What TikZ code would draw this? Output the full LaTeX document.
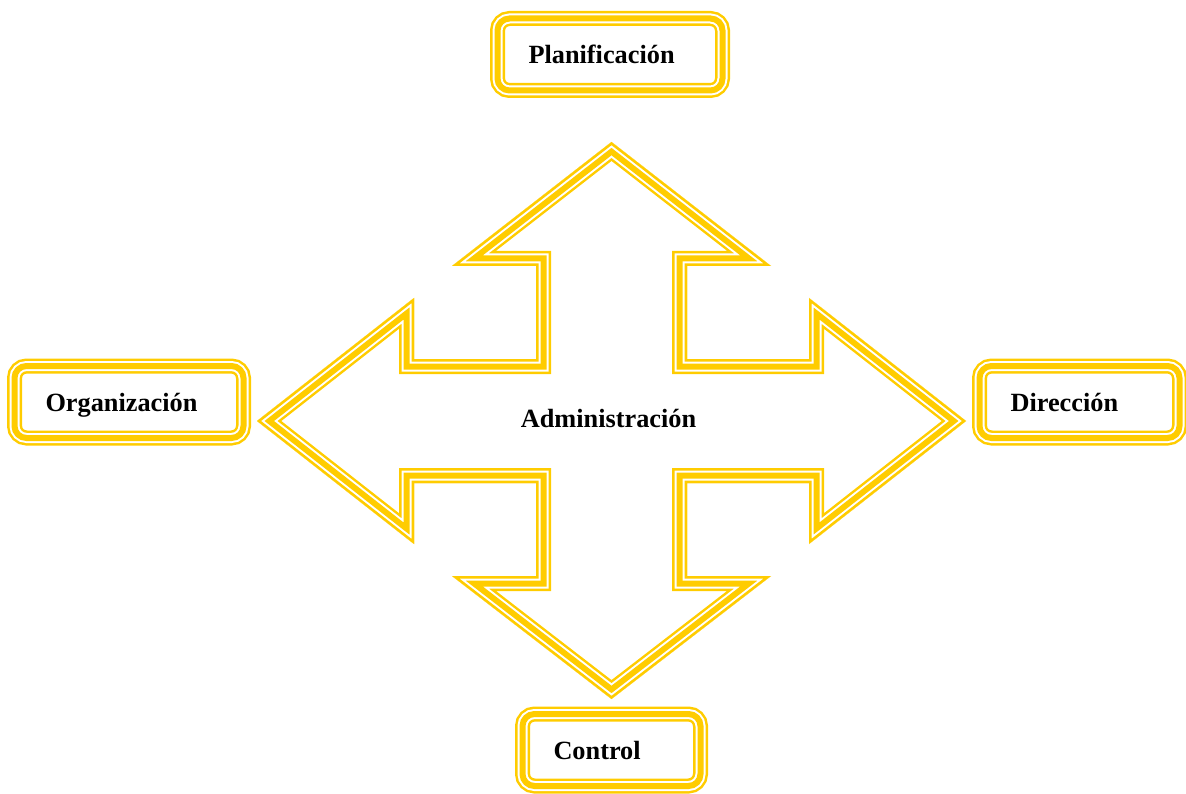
\documentclass[tikz,border=0pt]{standalone}
\usepackage{fontspec}
\setmainfont{Liberation Serif}
\definecolor{gold}{RGB}{255,204,0}

% outline of the four-way arrow (outer edge of the triple border)
\def\crossoutline{(611.5,142) -- (771,266) -- (687,266) -- (687,359) -- (809,359) -- (809,298)
  -- (966,421) -- (809,544) -- (809,483) -- (687,483) -- (687,576) -- (771,576)
  -- (611.5,699) -- (452,576) -- (536,576) -- (536,483) -- (414,483) -- (414,544)
  -- (257,421) -- (414,298) -- (414,359) -- (536,359) -- (536,266) -- (452,266) -- cycle}

\begin{document}
\begin{tikzpicture}[x=1pt,y=-1pt,
  word/.style={font=\bfseries\fontsize{26.3}{30}\selectfont},
  stage/.style={word, rounded corners=12, minimum height=72, inner xsep=31, inner ysep=0,
    align=left, text height=18, text depth=0,
    preaction={draw=gold, line width=15},
    preaction={draw=white, line width=10},
    draw=gold, line width=6},
  band/.style={draw=#1, line join=miter},
]
\useasboundingbox (0,0) rectangle (1186,794);

% central four-way arrow with thin-thick-thin border, kept inside its outline
\begin{scope}
  \clip \crossoutline;
  \draw[band=gold,  line width=30] \crossoutline;
  \draw[band=white, line width=25] \crossoutline;
  \draw[band=gold,  line width=21] \crossoutline;
  \draw[band=white, line width=9]  \crossoutline;
  \draw[band=gold,  line width=5]  \crossoutline;
\end{scope}

\node[word, anchor=base] (admin) at (608.5,427) {Administración};

% the four stages
\node[stage, text width=163] (plan) at (610,54.5) {Planificación};
\node[stage, text width=167] (org)  at (129,402) {Organización};
\node[stage, text width=138] (dir)  at (1079.5,402) {Dirección};
\node[stage, text width=116] (ctrl) at (611.5,750) {Control};
\end{tikzpicture}
\end{document}
